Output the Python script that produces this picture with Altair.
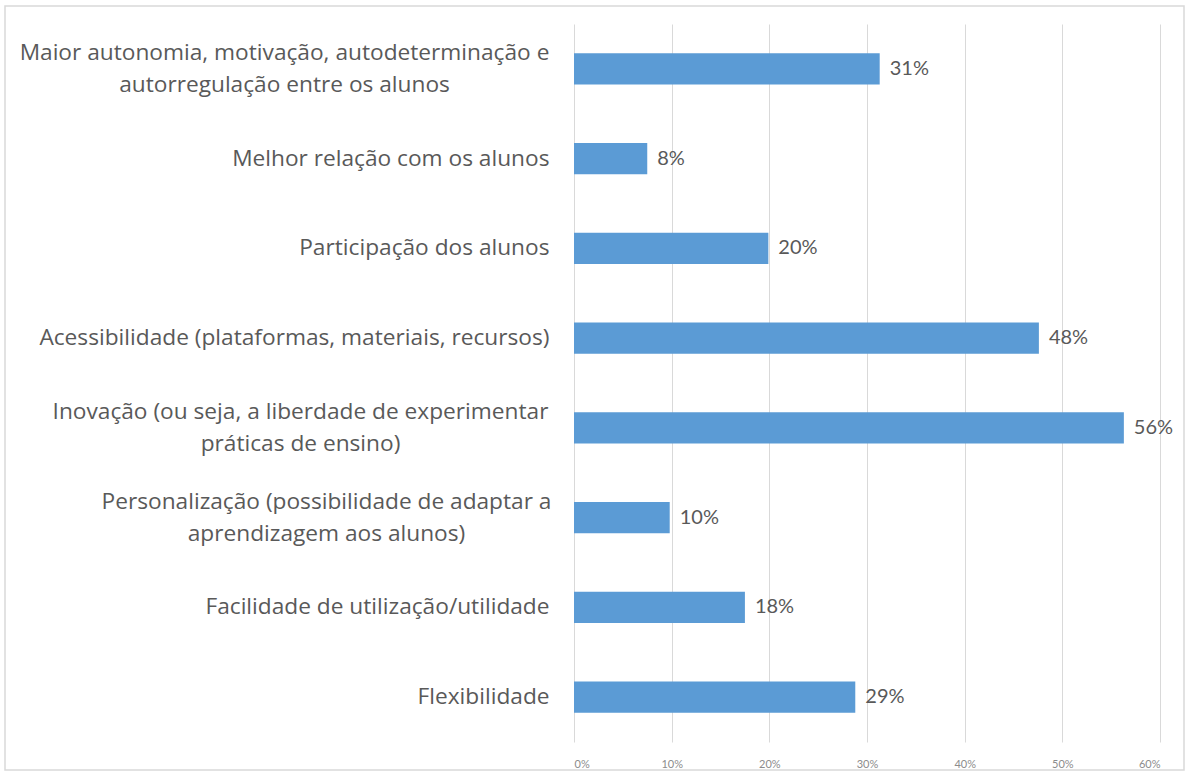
import altair as alt
import pandas as pd

categories = [
    "Maior autonomia, motivação, autodeterminação e|autorregulação entre os alunos",
    "Melhor relação com os alunos",
    "Participação dos alunos",
    "Acessibilidade (plataformas, materiais, recursos)",
    "Inovação (ou seja, a liberdade de experimentar|práticas de ensino)",
    "Personalização (possibilidade de adaptar a|aprendizagem aos alunos)",
    "Facilidade de utilização/utilidade",
    "Flexibilidade",
]
values = [0.313, 0.075, 0.199, 0.476, 0.563, 0.098, 0.175, 0.288]
value_labels = ["31%", "8%", "20%", "48%", "56%", "10%", "18%", "29%"]
x_ticks = [0.0, 0.1, 0.2, 0.3, 0.4, 0.5, 0.6]

df = pd.DataFrame({"category": categories, "value": values, "label": value_labels})

FONT = "Open Sans"
VFONT = "Lato"
TEXT = "#595959"
BAR = "#5B9BD5"
GRID = "#D9D9D9"

# padding for centered (multi-line) label blocks: 25px gap + half block width
block_pad = {"Maior": 290, "Inovação": 274, "Personalização": 248}
pad_cond = [
    {"test": f"indexof(datum.value, '{k}') == 0", "value": v} for k, v in block_pad.items()
]
multi_test = "indexof(datum.value, '|') >= 0"

y_enc = alt.Y(
    "category:N",
    sort=categories,
    scale=alt.Scale(paddingInner=0.65, paddingOuter=0.325),
    axis=alt.Axis(
        title=None,
        domain=False,
        ticks=False,
        labelExpr="split(datum.value, '|')",
        labelFont=FONT,
        labelFontSize=22.7,
        labelColor=TEXT,
        labelLineHeight=32,
        labelLimit=0,
        labelAlign={"condition": {"test": multi_test, "value": "center"}, "value": "right"},
        labelOffset={"condition": {"test": multi_test, "value": -16}, "value": 0},
        labelPadding={"condition": pad_cond, "value": 25},
    ),
)
x_enc = alt.X(
    "value:Q",
    scale=alt.Scale(domain=[0, 0.6], nice=False),
    axis=alt.Axis(
        values=x_ticks,
        format=".0%",
        title=None,
        domain=False,
        ticks=False,
        grid=True,
        gridColor=GRID,
        gridWidth=1,
        labelColor="#8C8C8C",
        labelFont=VFONT,
        labelFontSize=11,
        labelPadding=16,
    ),
)

bars = alt.Chart(df).mark_bar(color=BAR).encode(x=x_enc, y=y_enc)
texts = alt.Chart(df).mark_text(
    align="left", baseline="middle", dx=10, font=VFONT, fontSize=20, color=TEXT
).encode(x=x_enc, y=y_enc, text="label:N")

frame = alt.Chart(pd.DataFrame({"f": [0]})).mark_rect(
    fillOpacity=0, stroke=GRID, strokeWidth=1.5
).encode(
    x=alt.value(-569), x2=alt.value(610), y=alt.value(-18), y2=alt.value(746)
)

chart = (
    alt.layer(bars, texts, frame)
    .properties(
        width=586,
        height=718,
        autosize="none",
        padding={"left": 574, "top": 24, "right": 28, "bottom": 33},
        background="white",
    )
    .configure_view(stroke=None)
)

chart.save("out.html", embed_options={"renderer": "svg", "actions": False})
